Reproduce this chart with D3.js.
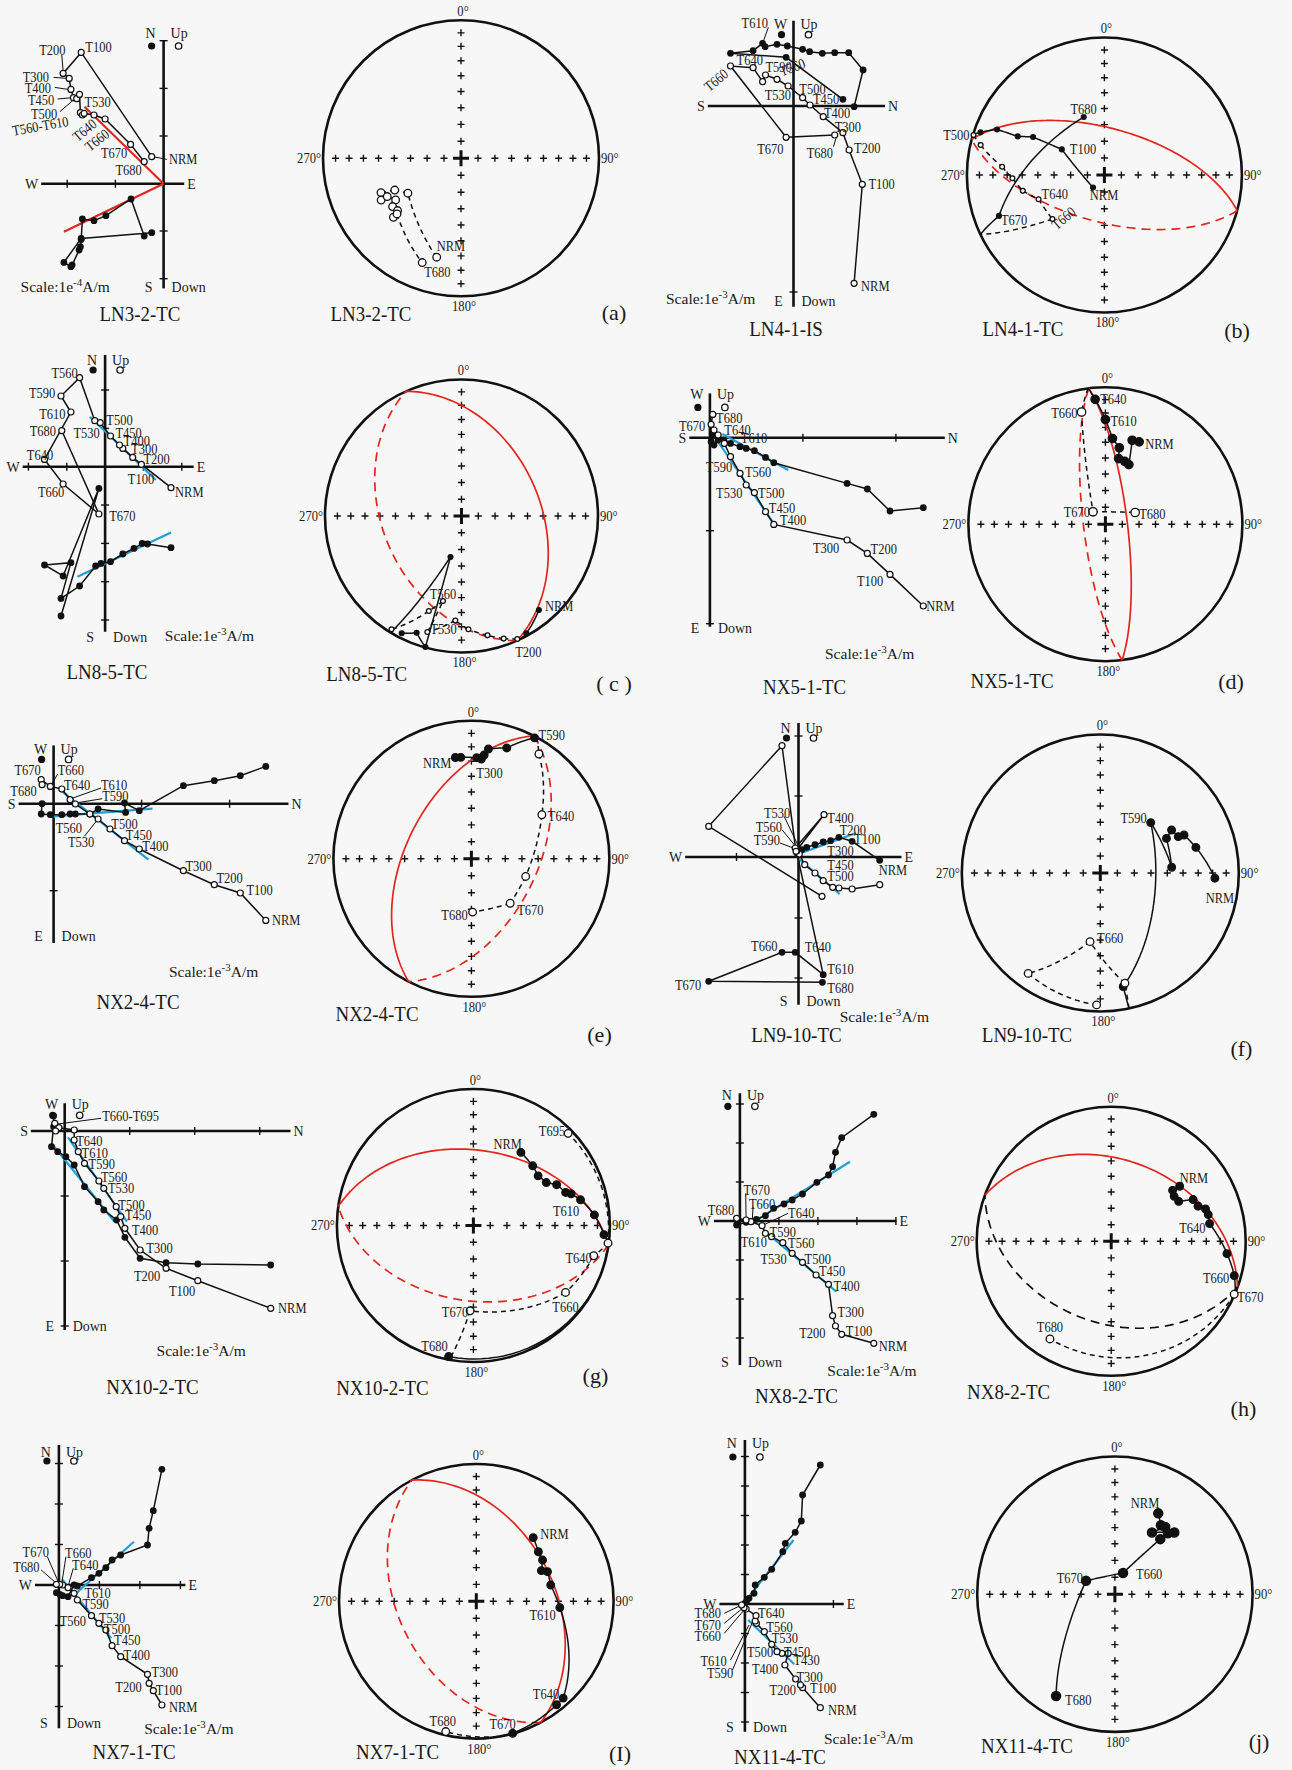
<!DOCTYPE html>
<html>
<head>
<meta charset="utf-8">
<style>
  html, body { margin: 0; padding: 0; background: #f7f7f7; }
  svg { display: block; }
  text { font-family: "Liberation Serif", "DejaVu Serif", serif; fill: #1a1a1a; }
</style>
</head>
<body>
<div id="chart"></div>
<script src="https://cdnjs.cloudflare.com/ajax/libs/d3/7.8.5/d3.min.js"></script>
<script>
// ---------- Zijderveld data: [step, horizontal comp, vertical comp] ----------
// open = vertical projection, filled = horizontal projection
const aOpen = [["NRM",-1.19,2.70],["T100",-8.24,13.13],["T200",-10.05,11.03],["T300",-9.44,10.53],["T400",-9.27,9.43],["T450",-9.02,8.60],["T500",-8.69,8.50],["T530",-8.41,8.93],["T560",-8.32,7.10],["T590",-8.12,6.87],["T610",-7.95,7.03],["T640",-6.96,6.87],["T660",-5.85,6.47],["T670",-3.30,3.93],["T680",-1.94,2.20]];
const aFilled = [["NRM",-1.19,-4.90],["T100",-8.24,-5.47],["T200",-9.97,-7.87],["T300",-9.27,-8.30],["T400",-9.15,-8.13],["T450",-8.45,-6.63],["T500",-8.32,-6.30],["T530",-8.24,-5.57],["T560",-8.12,-3.53],["T640",-6.96,-3.70],["T660",-5.77,-3.20],["T670",-3.26,-1.53],["T680",-1.94,-5.23]];
const aFit = [[-7.91,7.70,0,0],[-9.97,-4.80,0,0]];
const aTicksU = [-9.64,-4.82], aTicksV = [14.3,9.53,4.77,-4.73,-9.5];

const bOpen = [["NRM",6.06,-17.73],["T100",6.88,-7.83],["T200",5.56,-4.40],["T300",4.94,-2.67],["T400",2.97,-1.07],["T450",1.65,0.10],["T500",0.91,0.83],["T530",-0.54,2.0],["T560",-1.65,2.67],["T590",-2.80,3.10],["T610",-3.09,2.43],["T640",-4.04,3.83],["T660",-6.30,4.0],["T670",-0.74,-3.13],["T680",4.12,-2.90]];
const bFilled = [["NRM",6.06,-0.07],["T100",6.96,3.60],["T200",5.52,5.33],["T300",4.12,5.33],["T400",2.88,5.27],["T450",1.61,5.43],["T500",0.91,5.67],["T530",-0.62,6.0],["T560",-1.65,6.17],["T590",-2.84,5.93],["T610",-3.09,6.27],["T640",-4.04,5.53],["T660",-6.30,5.27],["T670",-0.74,4.87],["T680",4.94,0.67]];
const bFit = [];
const bTicksU = [], bTicksV = [-18.6];

const cOpen = [["NRM",6.59,-2.10],["T100",3.63,0.23],["T200",2.76,0.93],["T300",1.77,1.83],["T400",1.44,2.17],["T450",0.54,3.07],["T500",-0.49,4.40],["T530",-1.03,4.60],["T560",-2.55,8.90],["T590",-4.41,7.07],["T610",-3.42,5.47],["T640",-6.06,0.73],["T660",-4.20,-1.73],["T670",-0.62,-4.73],["T680",-4.33,3.60]];
const cFilled = [["NRM",6.59,-8.10],["T100",4.24,-7.73],["T200",3.71,-7.67],["T300",2.88,-8.17],["T400",1.77,-8.73],["T450",0.54,-9.50],["T500",-0.41,-9.67],["T530",-0.95,-9.93],["T560",-2.55,-11.93],["T590",-4.41,-13.17],["T610",-3.42,-9.60],["T640",-6.06,-9.83],["T660",-4.20,-10.93],["T670",-0.62,-2.17],["T680",-4.41,-14.93]];
const cFit = [[-1.52,5.0,5.07,-1.33],[-2.76,-11.0,6.59,-6.57]];
const cTicksU = [-7.67,-3.83,3.83,7.67], cTicksV = [7.67,3.83,-3.83,-7.67,-11.5,-15.33];

const dOpen = [["NRM",21.34,-16.83],["T100",18.01,-13.67],["T200",15.74,-11.57],["T300",13.72,-10.23],["T400",6.39,-8.67],["T450",5.56,-7.40],["T500",4.45,-5.50],["T530",3.63,-4.73],["T560",3.01,-3.57],["T590",2.06,-1.90],["T610",1.44,-0.57],["T640",0.82,0.27],["T660",0.41,0.77],["T670",0.12,1.33],["T680",0.29,2.33]];
const dFilled = [["NRM",21.34,-7.0],["T100",18.01,-7.33],["T200",15.74,-5.13],["T300",13.72,-4.57],["T400",6.39,-2.5],["T450",5.56,-1.97],["T500",4.45,-1.3],["T530",3.63,-1.07],["T560",3.01,-0.9],["T590",2.06,-0.57],["T610",1.44,-0.4],["T640",0.82,-0.23],["T660",0.41,-0.73],["T670",0.12,-0.4],["T680",0.29,0.27]];
const dFit = [[1.24,0.37,7.83,-3.23],[0.70,-0.23,6.59,-8.9]];
const dTicksU = [9.3,18.6], dTicksV = [-9.3,-18.6];

const eOpen = [["NRM",21.22,-11.67],["T100",18.67,-8.93],["T200",16.07,-8.10],["T300",12.98,-6.70],["T400",8.57,-4.53],["T450",7.09,-3.70],["T500",5.64,-2.53],["T530",4.45,-1.53],["T560",3.63,-1.03],["T590",2.18,-0.03],["T610",1.65,0.4],["T640",0.82,1.47],["T660",-0.33,1.73],["T670",-1.24,2.4],["T680",-1.15,1.9]];
const eFilled = [["NRM",21.22,3.73],["T100",18.67,2.8],["T200",16.07,2.3],["T300",12.98,1.8],["T400",8.57,-0.7],["T450",7.09,0.07],["T500",7.2,-0.87],["T530",4.45,-0.53],["T560",3.63,-1.03],["T590",2.18,-1.03],["T610",1.65,-1.03],["T640",0.82,-1.1],["T660",-0.33,-1.1],["T670",-1.24,-1.03],["T680",-1.15,0]];
const eFit = [[0.62,1.4,9.48,-5.6],[0,-1.27,9.89,-0.5]];
const eTicksU = [8.8,17.6], eTicksV = [-8.7];

const fOpen = [["NRM",8.12,-2.77],["T100",5.36,-3.20],["T200",4.04,-3.10],["T300",3.42,-3.03],["T400",2.47,-2.37],["T450",1.65,-1.60],["T500",0.62,-0.77],["T530",0.08,0.30],["T560",-0.16,0.63],["T590",-0.33,0.90],["T610",2.55,4.23],["T640",-0.25,0.57],["T660",-1.65,11.13],["T670",-8.98,3.07],["T680",2.35,-3.93]];
const fFilled = [["NRM",8.12,-0.33],["T100",5.36,1.57],["T200",4.04,1.97],["T300",3.21,1.63],["T400",2.47,1.5],["T450",1.65,1.23],["T500",0.82,0.97],["T530",0.33,0.73],["T560",0,0.57],["T590",-0.16,0.4],["T610",2.47,-11.77],["T640",-0.33,-9.53],["T660",-1.65,-9.53],["T670",-8.98,-12.43],["T680",2.39,-12.53]];
const fFit = [[-0.21,0.23,5.77,2.4],[0,-0.17,4.12,-3.7]];
const fTicksU = [-6.2], fTicksV = [12.1,6.1,-6.1,-12.1];

const gOpen = [["NRM",20.6,-17.73],["T100",13.31,-14.97],["T200",10.14,-13.73],["T300",7.54,-11.9],["T400",6.02,-9.73],["T450",5.6,-8.57],["T500",5.15,-7.57],["T530",3.91,-5.73],["T560",3.42,-5.0],["T590",1.98,-3.23],["T610",1.36,-2.07],["T640",0.95,-0.9],["T660",0.95,0.1],["T670",-0.58,0.33],["T680",-0.99,0.77],["T695",-0.91,0]];
const gFilled = [["NRM",20.6,-13.4],["T100",13.31,-13.3],["T200",10.14,-13.17],["T300",7.54,-12.73],["T400",6.02,-10.63],["T450",5.19,-8.9],["T500",3.91,-7.9],["T530",3.34,-7.07],["T560",1.98,-5.57],["T590",0.95,-3.4],["T610",0.12,-2.57],["T640",-0.70,-2.07],["T660",-1.32,-1.57],["T670",-1.11,0.43],["T680",-1.11,1.5]];
const gFit = [[-1.32,-1.23,4.99,-9.07],[0.33,-0.63,6.22,-9.07]];
const gTicksU = [6.5,13,19.5], gTicksV = [-6.5,-13,-19.5];

const hOpen = [["NRM",13.39,-12.23],["T100",10.18,-11.33],["T200",9.56,-10.5],["T300",9.27,-9.47],["T400",8.86,-6.33],["T450",7.62,-5.4],["T500",6.26,-4.13],["T530",5.23,-3.23],["T560",4.29,-2.17],["T590",3.17,-1.57],["T610",2.55,-1.23],["T640",2.22,-0.47],["T660",1.11,-0.07],["T670",0.62,0.1],["T680",-0.33,0.27]];
const hFilled = [["NRM",13.39,10.67],["T100",10.18,8.33],["T200",9.56,6.87],["T300",9.27,5.43],["T400",8.86,4.6],["T450",7.7,3.87],["T500",6.26,2.7],["T530",5.23,2.1],["T560",4.41,1.7],["T590",3.38,1.27],["T610",2.55,0.53],["T640",1.65,0.17],["T660",1.11,-0.07],["T670",0.62,-0.13],["T680",-0.33,-0.4]];
const hFit = [[1.52,0,11.0,5.93],[2.55,-1.07,9.64,-7.07]];
const hTicksU = [3.9,7.8,11.7,15.6], hTicksV = [11.7,7.8,3.9,-3.9,-7.8,-11.7];

const iOpen = [["NRM",10.3,-12.0],["T100",9.44,-10.57],["T200",9.02,-9.83],["T300",8.86,-8.93],["T400",6.18,-7.17],["T450",5.32,-6.07],["T500",4.7,-4.5],["T530",4.0,-3.83],["T560",3.26,-3.07],["T590",1.85,-1.5],["T610",1.52,-0.83],["T640",0.91,-0.27],["T660",0.37,0],["T670",0.08,0.07],["T680",-0.25,0.07]];
const iFilled = [["NRM",10.3,11.57],["T100",9.44,7.43],["T200",9.02,5.67],["T300",8.86,4.0],["T400",6.18,3.0],["T450",5.32,2.5],["T500",4.7,1.73],["T530",4.0,1.17],["T560",3.26,0.73],["T590",1.85,-0.1],["T610",1.52,0],["T640",0.91,-1.17],["T660",0.37,-1.07],["T670",0.08,-0.93],["T680",-0.25,-0.77]];
const iFit = [[1.73,-0.83,7.5,4.33],[0.29,0.6,5.23,-5.33]];
const iTicksU = [4.05,8.1,12.15], iTicksV = [12.15,8.1,4.05,-4.05,-8.1,-12.15];

const jOpen = [["NRM",7.54,-10.37],["T100",5.77,-8.37],["T200",5.56,-8.1],["T300",5.07,-7.5],["T400",4.0,-6.1],["T430",4.33,-4.93],["T450",3.71,-4.93],["T500",3.21,-4.77],["T530",2.68,-4.03],["T560",1.94,-2.77],["T590",1.15,-1.93],["T610",1.03,-1.7],["T640",1.11,-1.17],["T660",0.12,-0.5],["T670",-0.08,-0.37],["T680",-0.33,-0.1]];
const jFilled = [["NRM",7.54,13.9],["T100",5.77,10.9],["T200",5.64,8.3],["T300",5.03,7.17],["T400",4.04,6.07],["T430",3.79,5.23],["T450",2.68,3.47],["T500",1.94,2.67],["T530",1.03,1.9],["T560",0.91,1.07],["T590",0.41,0.57],["T610",0.16,0.23],["T640",0,0.07],["T660",-0.08,-0.03],["T670",-0.16,-0.1],["T680",-0.25,-0.17]];
const jFit = [[0.41,0.73,4.86,6.4],[0.33,-1.6,4.94,-6.03]];
const jTicksU = [8.85], jTicksV = [14.75,11.8,8.85,5.9,2.95,-2.95,-5.9,-8.85,-11.8];

// ---------- Stereonet data: [step, declination, inclination] ----------
const aStereo = [["NRM",193.8,-27.1],["T100",236.7,-52],["T200",244.4,-45.8],["T300",246.8,-37],["T400",242.4,-35],["T450",242.6,-39.6],["T500",237.5,-43.2],["T530",234.8,-39.2],["T560",230.5,-40.2],["T590",228.9,-35.3],["T640",229,-38.5],["T680",200.4,-20.5]];
const bStereo = [["NRM",222,80],["T100",301,60.4],["T200",298,40.9],["T300",294,31.6],["T400",293,16.3],["T450",289,5.3],["T500",287,-0.5],["T530",283.6,-8.2],["T560",274.6,-26.3],["T590",268,-33.5],["T610",259,-39.4],["T640",249.8,-47.7],["T660",229.7,-49],["T670",248.8,18.9],["T680",340.4,53.1]];
const cStereo = [["NRM",140.5,11.8],["T100",151.1,2],["T200",155.6,-1.2],["T300",161,-5.6],["T400",167.7,-11.5],["T450",176.5,-18],["T500",183.4,-24.3],["T530",196.4,-12.4],["T560",192.3,-36.4],["T590",199,-27.3],["T610",211.7,-2.7],["T640",195,64.6],["T660",195.4,0.5],["T670",201,9.2],["T680",207,4]];
const dStereo = [["NRM",22.3,35.3],["T100",17.7,35.9],["T200",21.5,51.4],["T300",17.1,50.3],["T400",11.4,49.6],["T450",10.3,42.7],["T500",4.7,37.3],["T610",0,24.6],["T640",355.3,9.4],["T660",348,-17.4],["T670",315,-79.6],["T680",68.5,-71]];
const eStereo = [["NRM",351,26.6],["T100",354,27],["T200",3,27.5],["T300",5.7,28.2],["T400",7,25.2],["T450",8.8,20.6],["T500",17.7,16.8],["T590",27.6,1.3],["T610",32.8,-10.6],["T640",58,-39.6],["T660",108,-56],["T670",138.9,-54.8],["T680",178.7,-58.3]];
const fStereo = [["NRM",92.6,18.3],["T100",75,29.3],["T200",65.6,34],["T300",65,37.9],["T400",58.9,39.7],["T450",62.4,45.2],["T500",85.4,47.1],["T590",45,47.3],["T610",168.6,17.5],["T640",167.4,-19.6],["T660",188.5,-48.5],["T670",215.7,-11.7],["T680",181.6,-5.3]];
const gStereo = [["NRM",33,36.3],["T100",44.8,38.3],["T200",52.5,40],["T300",59.5,38],["T400",63.9,32.6],["T450",70.3,29],["T500",72,25.7],["T530",76.5,20.4],["T560",85,12],["T590",94,4.6],["T640",104.1,-10],["T660",126,-17.7],["T670",182.2,-37.5],["T680",190.7,2.6],["T690",97.5,-0.6],["T695",45.8,-3.6]];
const hStereo = [["NRM",51.2,35],["T100",50.3,40.4],["T200",54.5,42],["T300",59.4,41.3],["T400",63,32.2],["T450",68,31],["T500",71.1,26.8],["T530",74.6,26.1],["T640",79.8,26.6],["T650",96.1,14.5],["T660",105.6,5.6],["T670",113.3,-0.5],["T680",212.1,-15.4]];
const iStereo = [["NRM",41.8,37.8],["T100",51.4,41.7],["T200",58.1,42.6],["T300",64.8,46.5],["T400",67.4,43.2],["T450",77.7,43.8],["T610",94.3,38.9],["T640",138.1,5.9],["T660",142.2,5.2],["T670",164.6,0.3],["T680",193.2,-2.9]];
const jStereo = [["NRM",28.2,33.8],["T100",33.7,39.6],["T200",36.8,38.9],["T300",31,46.6],["T400",43.9,37.8],["T450",41,41],["T500",39.5,47],["T660",21,76.6],["T670",294.8,71.2],["T680",210,15.7]];

// great circles: [dip direction, dip, colour of upper-hemisphere half]
const bPlanes = [[15,62]], cPlanes = [[66,42]], dPlanes = [[83,77]], ePlanes = [[297,51]];
const gPlanes = [[8,44]], hPlanes = [[20,39,"#111"]], iPlanes = [[62,43]];
const crossIncs = [10,20,30,40,50,60,70,80];

// ---------- annotations (text, position in data units, anchor, rotation) ----------
const aNotes = [["NRM",0.54,2.43],["T100",-7.83,13.63],["T200",-12.44,13.37],["T300",-14.09,10.63],["T400",-13.89,9.53],["T450",-13.56,8.37],["T500",-13.27,6.93],["T530",-7.91,8.2],["T560-T610",-15.12,5.3,"start",-10],["T640",-7.91,5.37,"middle",-40],["T660",-6.67,4.37,"middle",-38],["T670",-6.26,3.03],["T680",-4.82,1.37]];
const aLeaders = [[-10.18,12.87,-10.05,11.3],[-11.0,10.63,-9.6,10.53],[-10.88,9.63,-9.56,9.43],[-10.59,8.47,-9.15,8.6],[-10.38,7.2,-8.94,8.43],[-1.03,2.7,0.33,2.43]];
const bNotes = [["T610",-5.19,8.33],["T640",-5.69,4.6],["T590",-2.8,3.93],["T560",-1.36,3.43,"start",-20],["T660",-7.75,2.6,"middle",-40],["T530",-2.88,1.1],["T500",0.58,1.67],["T450",1.94,0.67],["T400",3.05,-0.73],["T300",4.12,-2.07],["T200",6.06,-4.23],["T100",7.5,-7.83],["NRM",6.76,-17.97],["T670",-3.63,-4.33],["T680",1.32,-4.73]];
const bLeaders = [[-2.51,7.87,-3.09,6.27],[4.0,-4.07,4.29,-3.07]];
const cNotes = [["T560",-5.36,9.4],["T590",-7.62,7.4],["T610",-6.59,5.27],["T680",-7.54,3.6],["T640",-7.83,1.17],["T660",-6.72,-2.5],["T670",0.41,-4.93],["T500",0.12,4.67],["T530",-3.17,3.33],["T450",1.03,3.33],["T400",1.85,2.6],["T300",2.6,1.73],["T200",3.83,0.73],["T100",2.27,-1.27],["NRM",7.0,-2.57]];
const dNotes = [["T680",0.62,2.0],["T670",-3.09,1.2],["T640",1.44,0.77],["T610",3.09,-0.07],["T590",-0.41,-2.9],["T560",3.5,-3.4],["T530",0.62,-5.57],["T500",4.82,-5.5],["T450",5.89,-7.0],["T400",7.0,-8.23],["T300",10.3,-11.07],["T200",16.07,-11.13],["T100",14.71,-14.3],["NRM",21.63,-16.83]];
const eNotes = [["T670",-3.91,3.4],["T660",0.41,3.4],["T680",-4.33,1.23],["T640",1.03,1.83],["T610",4.74,1.83],["T590",4.86,0.73],["T560",0.21,-2.43],["T530",1.44,-3.87],["T500",5.77,-2.03],["T450",7.21,-3.1],["T400",8.86,-4.27],["T300",13.18,-6.27],["T200",16.28,-7.43],["T100",19.28,-8.67],["NRM",21.84,-11.67]];
const eLeaders = [[0.41,2.97,-0.21,1.9],[4.74,1.57,1.65,0.47],[4.86,0.5,2.2,0.07],[3.07,-3.27,4.45,-1.53]];
const fNotes = [["T530",-0.82,4.4,"end"],["T560",-1.65,2.97,"end"],["T590",-1.85,1.73,"end"],["T400",2.88,3.9],["T200",4.12,2.73],["T100",5.56,1.83],["T300",2.88,0.57],["T450",2.88,-0.77],["T500",2.88,-1.93],["NRM",8.03,-1.27],["T660",-4.74,-8.87],["T640",0.62,-9.03],["T610",2.88,-11.2],["T670",-12.36,-12.77],["T680",2.88,-13.1]];
const fLeaders = [[-1.44,4.07,-0.08,1.23],[-1.65,2.73,-0.21,0.97],[-1.85,1.4,-0.33,0.83]];
const gNotes = [["T640",1.15,-1.0],["T610",1.69,-2.17],["T590",2.39,-3.3],["T560",3.63,-4.57],["T530",4.33,-5.73],["T500",5.36,-7.4],["T450",6.02,-8.4],["T400",6.72,-9.9],["T300",8.16,-11.73],["T200",6.92,-14.5],["T100",10.42,-15.97],["NRM",21.34,-17.73],["T660-T695",3.75,1.5]];
const gLeaders = [[-0.7,0.7,3.63,1.27]];
const hNotes = [["T670",0.37,3.1],["T660",0.91,1.7],["T680",-3.21,1.1],["T640",4.82,0.77],["T590",2.97,-1.07],["T610",0.08,-2.13],["T560",4.82,-2.23],["T530",2.06,-3.8],["T500",6.47,-3.83],["T450",7.91,-5.0],["T400",9.35,-6.47],["T300",9.77,-9.13],["T200",5.93,-11.17],["T100",10.59,-10.97],["NRM",13.89,-12.47]];
const hLeaders = [[0.58,2.77,0.62,0.1],[1.32,1.43,1.24,0.17],[4.82,0.77,2.35,-0.4]];
const iNotes = [["T670",-3.63,3.33],["T660",0.62,3.23],["T680",-4.57,1.77],["T640",1.32,2.0],["T610",2.55,-0.83],["T590",2.35,-1.93],["T560",0.08,-3.6],["T530",4.0,-3.33],["T500",4.49,-4.43],["T450",5.52,-5.53],["T400",6.47,-7.0],["T300",9.27,-8.67],["T200",5.64,-10.2],["T100",9.68,-10.5],["NRM",11.0,-12.17]];
const iLeaders = [[-1.15,2.83,0,0.17],[0.7,2.83,0.29,0.17],[-1.77,1.5,-0.25,0.17],[1.44,1.67,0.91,-0.17]];
const jNotes = [["T640",1.32,-0.93],["T560",2.14,-2.27],["T530",2.68,-3.37],["T450",3.91,-4.77],["T430",4.86,-5.6],["T500",0.21,-4.83],["T400",0.70,-6.5],["T300",5.15,-7.27],["T200",2.47,-8.6],["T100",6.51,-8.43],["NRM",8.32,-10.6],["T680",-5.03,-0.9],["T670",-5.03,-2.05],["T660",-5.03,-3.2],["T610",-4.45,-5.7],["T590",-3.79,-6.93]];
const jLeaders = [[-2.06,-0.93,-0.33,-0.1],[-2.06,-1.93,-0.12,-0.33],[-2.06,-2.93,0,-0.5],[-1.44,-5.6,0.41,-2.1],[-1.24,-6.6,0.91,-1.43]];

// stereonet labels: [text, step, dx px, dy px, anchor, rotation]
const aSNotes = [["NRM","NRM",0,-11,"start"],["T680","T680",2,9,"start"]];
const bSNotes = [["T500","T500",-4,0,"end"],["T680","T680",13,-8,"end"],["T100","T100",8,0,"start"],["NRM","NRM",11,7,"middle"],["T640","T640",3,-5,"start"],["T670","T670",2,4,"start"],["T660","T660",11,-1,"middle",-40]];
const cSNotes = [["NRM","NRM",6,-4,"start"],["T560","T560",0,-7,"middle"],["T530","T530",3,-3,"start"],["T200","T200",11,13,"middle"]];
const dSNotes = [["T640","T640",5,0,"start"],["T610","T610",5,1,"start"],["NRM","NRM",6,2,"start"],["T660","T660",-4,1,"end"],["T670","T670",-3,0,"end"],["T680","T680",4,1,"start"]];
const eSNotes = [["T590","T590",4,-3,"start"],["NRM","NRM",-4,5,"end"],["T300","T300",-5,14,"start"],["T640","T640",6,1,"start"],["T670","T670",7,7,"start"],["T680","T680",-5,3,"end"]];
const fSNotes = [["T590","T590",-4,-5,"end"],["NRM","NRM",5,20,"middle"],["T660","T660",7,-4,"start"]];
const gSNotes = [["T695","T695",-3,-2,"end"],["NRM","NRM",1,-8,"end"],["T610","T500",-5,17,"middle"],["T640","T640",-2,2,"end"],["T660","T660",0,14,"middle"],["T670","T670",-2,1,"end"],["T680","T680",-1,-11,"end"]];
const hSNotes = [["NRM","NRM",0,-8,"start"],["T640","T640",-4,4,"end"],["T660","T660",-5,2,"end"],["T670","T670",3,3,"start"],["T680","T680",0,-12,"middle"]];
const iSNotes = [["NRM","NRM",7,-4,"start"],["T610","T610",-4,7,"end"],["T640","T640",-4,-4,"end"],["T670","T670",-10,-9,"middle"],["T680","T680",-3,-11,"middle"]];
const jSNotes = [["NRM","NRM",1,-10,"end"],["T660","T660",13,1,"start"],["T670","T670",-3,-3,"end"],["T680","T680",9,4,"start"]];

// ---------- panels ----------
const NSdir = ["N","Up","W","E","S","Down"], WEdir = ["W","Up","S","N","E","Down"];
const panels = [
  {open:aOpen, filled:aFilled, fit:aFit, fitColor:"#e3261d", tu:aTicksU, tv:aTicksV, uExt:[-12.24,2.06], vExt:[-10.47,14.37], notes:aNotes, leaders:aLeaders, dirs:NSdir, exp:"-4", title:"LN3-2-TC",
   stereo:aStereo, planes:[], snotes:aSNotes, mr:3.8, letter:"(a)"},
  {open:bOpen, filled:bFilled, fit:bFit, fitColor:"#1e9fd8", tu:bTicksU, tv:bTicksV, uExt:[-8.57,9.15], vExt:[-20.07,8.53], notes:bNotes, leaders:bLeaders, dirs:WEdir, exp:"-3", title:"LN4-1-IS",
   stereo:bStereo, planes:bPlanes, snotes:bSNotes, mr:2.4, letter:"(b)", stitle:"LN4-1-TC"},
  {open:cOpen, filled:cFilled, fit:cFit, fitColor:"#1e9fd8", tu:cTicksU, tv:cTicksV, uExt:[-8.24,8.86], vExt:[-16.5,11.17], notes:cNotes, leaders:[], dirs:NSdir, exp:"-3", title:"LN8-5-TC",
   stereo:cStereo, planes:cPlanes, snotes:cSNotes, mr:2.4, letter:"( c )"},
  {open:dOpen, filled:dFilled, fit:dFit, fitColor:"#1e9fd8", tu:dTicksU, tv:dTicksV, uExt:[-2.06,23.49], vExt:[-18.9,4.43], notes:dNotes, leaders:[], dirs:WEdir, exp:"-3", title:"NX5-1-TC",
   stereo:dStereo, planes:dPlanes, snotes:dSNotes, mr:4.2, letter:"(d)"},
  {open:eOpen, filled:eFilled, fit:eFit, fitColor:"#1e9fd8", tu:eTicksU, tv:eTicksV, uExt:[-3.5,23.49], vExt:[-13.93,5.83], notes:eNotes, leaders:eLeaders, dirs:WEdir, exp:"-3", title:"NX2-4-TC",
   stereo:eStereo, planes:ePlanes, snotes:eSNotes, mr:3.8, letter:"(e)"},
  {open:fOpen, filled:fFilled, fit:fFit, fitColor:"#1e9fd8", tu:fTicksU, tv:fTicksV, uExt:[-11.33,10.3], vExt:[-14.77,13.4], notes:fNotes, leaders:fLeaders, dirs:NSdir, exp:"-3", title:"LN9-10-TC",
   stereo:fStereo, planes:[], snotes:fSNotes, mr:3.8, letter:"(f)"},
  {open:gOpen, filled:gFilled, fit:gFit, fitColor:"#1e9fd8", tu:gTicksU, tv:gTicksV, uExt:[-3.38,22.58], vExt:[-19.9,2.77], notes:gNotes, leaders:gLeaders, dirs:WEdir, exp:"-3", title:"NX10-2-TC",
   stereo:gStereo, planes:gPlanes, snotes:gSNotes, mr:3.8, letter:"(g)"},
  {open:hOpen, filled:hFilled, fit:hFit, fitColor:"#1e9fd8", tu:hTicksU, tv:hTicksV, uExt:[-2.6,15.66], vExt:[-14.4,12.77], notes:hNotes, leaders:hLeaders, dirs:NSdir, exp:"-3", title:"NX8-2-TC",
   stereo:hStereo, planes:hPlanes, snotes:hSNotes, mr:3.8, letter:"(h)"},
  {open:iOpen, filled:iFilled, fit:iFit, fitColor:"#1e9fd8", tu:iTicksU, tv:iTicksV, uExt:[-2.39,12.65], vExt:[-14.33,14], notes:iNotes, leaders:iLeaders, dirs:NSdir, exp:"-3", title:"NX7-1-TC",
   stereo:iStereo, planes:iPlanes, snotes:iSNotes, mr:3.8, letter:"(I)"},
  {open:jOpen, filled:jFilled, fit:jFit, fitColor:"#1e9fd8", tu:jTicksU, tv:jTicksV, uExt:[-2.55,9.89], vExt:[-12.77,16.4], notes:jNotes, leaders:jLeaders, dirs:NSdir, exp:"-3", title:"NX11-4-TC",
   stereo:jStereo, planes:[], snotes:jSNotes, mr:4.6, letter:"(j)"}
];

// layout: zijderveld origin, top label/dot offsets, bottom label offset, scale text, title; net centre, radius, net title, letter
const layout = [
  {o:[163.6,183.7], top:[-7,6], bot:-2, scale:[20.6,287], title:[140,313], sc:[461,158.3], R:138, stitle:[371,313], letter:[614,312]},
  {o:[793.5,106], top:[3,14], bot:-6, scale:[666,298.3], title:[786,328.3], sc:[1104.4,175], R:137.5, stitle:[1023,328], letter:[1237,330]},
  {o:[105.1,466.7], top:[5,15], bot:5, scale:[164.8,636], title:[107,671.7], sc:[461.5,516], R:136.5, stitle:[366.7,673.3], letter:[614,683]},
  {o:[709.9,437.7], top:[0,14], bot:1, scale:[825,654], title:[804.6,686.7], sc:[1105.4,524.2], R:137, stitle:[1012,680], letter:[1231,681.7]},
  {o:[53.6,803.7], top:[3,14], bot:-7, scale:[169,972], title:[138,1001.3], sc:[471.4,858.8], R:138, stitle:[377,1013], letter:[599.5,1034.7]},
  {o:[798.5,857], top:[5,15], bot:-4, scale:[839.7,1017], title:[796.4,1034.7], sc:[1100.3,873], R:138.5, stitle:[1027,1034.7], letter:[1241.4,1048]},
  {o:[64.7,1131], top:[0,12], bot:-4, scale:[156.6,1351], title:[152.5,1386.7], sc:[473.4,1225.5], R:136.5, stitle:[382.4,1387.3], letter:[595.4,1375]},
  {o:[739.9,1221], top:[1,13], bot:-3, scale:[827.3,1371], title:[796.4,1395], sc:[1111.2,1241.3], R:134.5, stitle:[1008.6,1391.7], letter:[1243.4,1408]},
  {o:[58.9,1585], top:[7,16], bot:-6, scale:[144.2,1728.3], title:[134,1751.7], sc:[476.3,1601.3], R:137.3, stitle:[397.6,1751.7], letter:[620,1753]},
  {o:[744.9,1604], top:[3,17], bot:-5, scale:[824,1738.3], title:[780,1756], sc:[1114.9,1594.2], R:137.7, stitle:[1027,1745], letter:[1259,1741.7]}
];

const W = 1292, H = 1770, UNIT = 10, INK = "#111", RED = "#e3261d", FS = 14.5, SX = 0.86;
const svg = d3.select("#chart").append("svg").attr("width", W).attr("height", H);
svg.append("rect").attr("width", W).attr("height", H).attr("fill", "#f7f7f7");

// text placed by transform; sx < 1 gives the tall, narrow lettering of the original
function txt(g, t, x, y, anchor, size, angle, sx) {
  const tr = `translate(${x},${y})` + (angle ? ` rotate(${angle})` : "") + (sx ? ` scale(${sx},1)` : "");
  return g.append("text").attr("transform", tr).attr("dy", "0.35em")
    .attr("text-anchor", anchor || "start").attr("font-size", size || FS).text(t);
}

function drawZij(p, L) {
  const g = svg.append("g");
  const x = d3.scaleLinear().domain([0, 1]).range([L.o[0], L.o[0] + UNIT]);
  const y = d3.scaleLinear().domain([0, 1]).range([L.o[1], L.o[1] - UNIT]);
  const x0 = x(0), y0 = y(0), top = y(p.vExt[1]), bot = y(p.vExt[0]);
  const xl = x(p.uExt[0]), xr = x(p.uExt[1]);

  g.append("line").attr("x1", xl).attr("x2", xr).attr("y1", y0).attr("y2", y0).attr("stroke", INK).attr("stroke-width", 2.6);
  g.append("line").attr("x1", x0).attr("x2", x0).attr("y1", top).attr("y2", bot).attr("stroke", INK).attr("stroke-width", 2.6);
  g.selectAll(null).data(p.tu).join("line").attr("x1", d => x(d)).attr("x2", d => x(d))
    .attr("y1", y0 - 4).attr("y2", y0 + 4).attr("stroke", INK).attr("stroke-width", 1.4);
  g.selectAll(null).data(p.tv).join("line").attr("y1", d => y(d)).attr("y2", d => y(d))
    .attr("x1", x0 - 4).attr("x2", x0 + 4).attr("stroke", INK).attr("stroke-width", 1.4);

  // direction names
  const d = p.dirs;
  txt(g, d[0], x0 - 13, top + L.top[0], "middle", 15.5, 0, 0.9);
  txt(g, d[1], x0 + 7, top + L.top[0], "start", 15.5, 0, 0.9);
  txt(g, d[2], xl - 3, y0, "end", 15.5, 0, 0.9);
  txt(g, d[3], xr + 3, y0, "start", 15.5, 0, 0.9);
  txt(g, d[4], x0 - 15, bot + L.bot, "middle", 15.5, 0, 0.9);
  txt(g, d[5], x0 + 8, bot + L.bot, "start", 15.5, 0, 0.9);
  g.append("circle").attr("cx", x0 - 12).attr("cy", top + L.top[1]).attr("r", 3.6).attr("fill", INK);
  g.append("circle").attr("cx", x0 + 15).attr("cy", top + L.top[1]).attr("r", 3.2).attr("fill", "#fff").attr("stroke", INK).attr("stroke-width", 1.3);

  // scale text
  const st = g.append("text").attr("x", L.scale[0]).attr("y", L.scale[1]).attr("font-size", 15.5);
  st.append("tspan").attr("dy", "0.35em").text("Scale:1e");
  st.append("tspan").attr("dy", -6).attr("font-size", 11).text(p.exp);
  st.append("tspan").attr("dy", 6).text("A/m");
  txt(g, p.title, L.title[0], L.title[1], "middle", 21.5, 0, 0.88);

  // fitted lines
  g.selectAll(null).data(p.fit).join("line")
    .attr("x1", f => x(f[0])).attr("y1", f => y(f[1])).attr("x2", f => x(f[2])).attr("y2", f => y(f[3]))
    .attr("stroke", p.fitColor).attr("stroke-width", 2.2);

  const ln = d3.line().x(s => x(s[1])).y(s => y(s[2]));
  g.append("path").attr("d", ln(p.filled)).attr("fill", "none").attr("stroke", INK).attr("stroke-width", 1.5);
  g.append("path").attr("d", ln(p.open)).attr("fill", "none").attr("stroke", INK).attr("stroke-width", 1.5);

  // leaders
  g.selectAll(null).data(p.leaders).join("line")
    .attr("x1", f => x(f[0])).attr("y1", f => y(f[1])).attr("x2", f => x(f[2])).attr("y2", f => y(f[3]))
    .attr("stroke", INK).attr("stroke-width", 1);

  g.selectAll(null).data(p.filled).join("circle").attr("cx", s => x(s[1])).attr("cy", s => y(s[2]))
    .attr("r", 3.4).attr("fill", INK);
  g.selectAll(null).data(p.open).join("circle").attr("cx", s => x(s[1])).attr("cy", s => y(s[2]))
    .attr("r", 3).attr("fill", "#fff").attr("stroke", INK).attr("stroke-width", 1.2);

  p.notes.forEach(n => txt(g, n[0], x(n[1]), y(n[2]), n[3] || "start", FS, n[4], SX));
}

const rad = Math.PI / 180;
const vec = (dec, inc) => [Math.cos(inc * rad) * Math.cos(dec * rad), Math.cos(inc * rad) * Math.sin(dec * rad), Math.sin(inc * rad)];
const norm = v => { const m = Math.hypot(v[0], v[1], v[2]) || 1; return [v[0] / m, v[1] / m, v[2] / m]; };

// split a sampled polyline of vectors into runs of lower (solid) / upper (dashed) hemisphere
function runsOf(pts) {
  const runs = [];
  let cur = [pts[0]], lower = pts[0][2] >= 0;
  for (let i = 1; i < pts.length; i++) {
    const q = pts[i - 1], v = pts[i], vl = v[2] >= 0;
    if (vl !== lower) {
      const t = q[2] / (q[2] - v[2]);
      const c = norm([q[0] + (v[0] - q[0]) * t, q[1] + (v[1] - q[1]) * t, 0]);
      cur.push(c); runs.push({ lower, pts: cur }); cur = [c]; lower = vl;
    }
    cur.push(v);
  }
  runs.push({ lower, pts: cur });
  return runs;
}

function drawNet(p, L) {
  const g = svg.append("g");
  const [cx, cy] = L.sc, R = L.R;
  const rs = d3.scaleSqrt().domain([0, 1]).range([0, R]); // equal-area radius
  const proj = v => {
    const h = Math.hypot(v[0], v[1]) || 1e-9, r = rs(Math.max(0, 1 - Math.abs(v[2])));
    return [cx + r * v[1] / h, cy - r * v[0] / h];
  };
  const ln = d3.line().x(v => proj(v)[0]).y(v => proj(v)[1]);

  g.append("circle").attr("cx", cx).attr("cy", cy).attr("r", R).attr("fill", "none").attr("stroke", INK).attr("stroke-width", 2.6);
  [0, 90, 180, 270].forEach(az => crossIncs.forEach(inc => {
    const [px, py] = proj(vec(az, inc));
    g.append("path").attr("d", `M${px - 3.5},${py}H${px + 3.5}M${px},${py - 3.5}V${py + 3.5}`).attr("stroke", INK).attr("stroke-width", 1.4);
  }));
  g.append("path").attr("d", `M${cx - 8},${cy}H${cx + 8}M${cx},${cy - 8}V${cy + 8}`).attr("stroke", INK).attr("stroke-width", 3);
  txt(g, "0°", cx + 2, cy - R - 9, "middle", 14, 0, 0.9);
  txt(g, "180°", cx + 3, cy + R + 10, "middle", 14, 0, 0.9);
  txt(g, "270°", cx - R - 2, cy, "end", 14, 0, 0.9);
  txt(g, "90°", cx + R + 2, cy, "start", 14, 0, 0.9);
  txt(g, p.stitle || p.title, L.stitle[0], L.stitle[1], "middle", 21.5, 0, 0.88);
  txt(g, p.letter, L.letter[0], L.letter[1], "middle", 22);

  // great circles
  p.planes.forEach(pl => {
    const a = vec(pl[0] - 90, 0), b = vec(pl[0], pl[1]);
    const half = (t0, t1) => d3.range(t0, t1 + 0.1, 2).map(t => [0, 1, 2].map(k => Math.cos(t * rad) * a[k] + Math.sin(t * rad) * b[k]));
    g.append("path").attr("d", ln(half(0, 180))).attr("fill", "none").attr("stroke", RED).attr("stroke-width", 1.7);
    g.append("path").attr("d", ln(half(180, 360))).attr("fill", "none").attr("stroke", pl[2] || RED)
      .attr("stroke-width", 1.7).attr("stroke-dasharray", "9,6");
  });

  // demagnetisation path along great-circle arcs
  const vs = p.stereo.map(s => norm(vec(s[1], s[2])));
  for (let i = 1; i < vs.length; i++) {
    const a = vs[i - 1], b = vs[i];
    const pts = d3.range(0, 1.0001, 1 / 30).map(t => norm([0, 1, 2].map(k => a[k] * (1 - t) + b[k] * t)));
    runsOf(pts).forEach(r => {
      g.append("path").attr("d", ln(r.pts)).attr("fill", "none").attr("stroke", INK).attr("stroke-width", 1.5)
        .attr("stroke-dasharray", r.lower ? null : "5,4");
    });
  }
  p.stereo.forEach((s, i) => {
    const [px, py] = proj(vs[i]);
    const lower = s[2] >= 0;
    g.append("circle").attr("cx", px).attr("cy", py).attr("r", p.mr)
      .attr("fill", lower ? INK : "#fff").attr("stroke", INK).attr("stroke-width", 1.3);
  });
  p.snotes.forEach(n => {
    const i = p.stereo.findIndex(s => s[0] === n[1]);
    const [px, py] = proj(vs[i]);
    txt(g, n[0], px + n[2], py + n[3], n[4], FS, n[5], SX);
  });
}

panels.forEach((p, i) => { drawZij(p, layout[i]); drawNet(p, layout[i]); });
</script>
</body>
</html>
